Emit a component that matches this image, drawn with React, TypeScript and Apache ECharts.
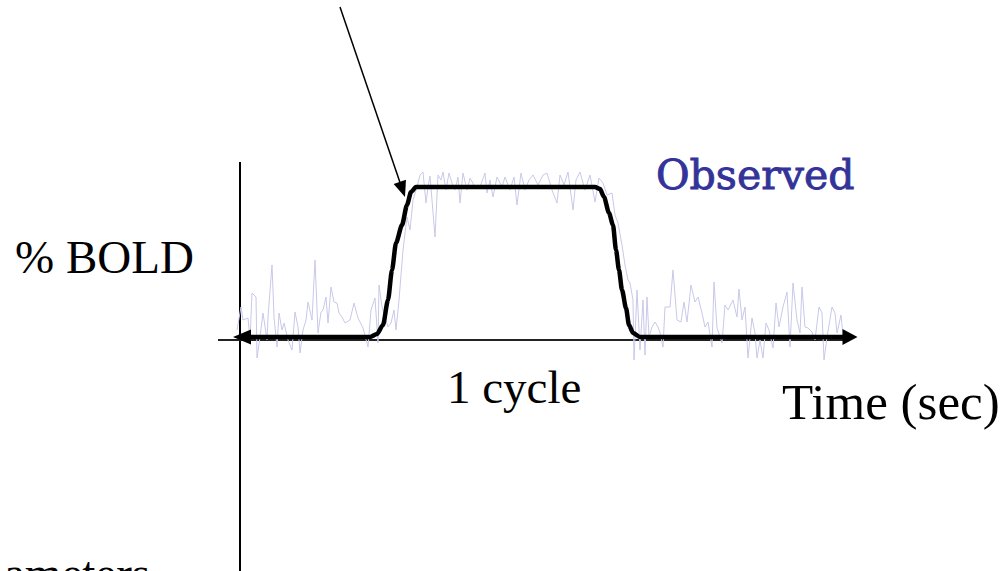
import React, { useEffect, useRef } from "react";
import * as echarts from "echarts";

// Time axis (arbitrary units) and % BOLD axis (arbitrary units)
const xRange = [0, 625];
const yRange = [-75, 330];

// Observed noisy BOLD trace: [time, signal]
const observed: [number, number][] = [
  [4, 7], [8, 30], [10, 17], [15, 19], [17, -3], [19, 44], [23, 40], [24, -21], [27, 0], [30, 24],
  [34, -3], [35, 20], [39, 72], [41, 20], [44, -10], [46, 24], [49, 7], [51, 14], [55, -3], [59, -13],
  [62, 25], [65, 10], [67, -16], [70, 7], [73, 17], [75, 35], [79, 17], [82, 77], [85, 4], [88, 25],
  [90, 27], [93, 40], [95, 14], [98, 50], [101, 35], [104, 34], [106, 24], [109, 20], [112, 14], [117, 17],
  [121, 34], [125, 19], [130, 9], [135, -10], [138, 27], [142, 39], [145, -6], [146, 52], [149, 30], [152, 20],
  [155, 10], [158, 14], [161, 27], [163, 7], [166, 37], [170, 87], [174, 120], [177, 107], [180, 137], [184, 150],
  [187, 162], [190, 165], [193, 134], [195, 150], [197, 161], [199, 137], [202, 100], [205, 162], [208, 157], [210, 165],
  [213, 147], [216, 164], [219, 154], [222, 147], [225, 160], [227, 134], [230, 164], [234, 147], [237, 159], [242, 150],
  [247, 150], [252, 164], [254, 144], [257, 157], [260, 140], [264, 160], [269, 150], [272, 160], [277, 147], [281, 160],
  [284, 132], [288, 164], [292, 147], [296, 157], [300, 162], [305, 152], [310, 162], [314, 164], [319, 147], [324, 134],
  [327, 162], [331, 152], [335, 165], [340, 127], [343, 157], [347, 165], [352, 147], [357, 162], [362, 135], [366, 159],
  [370, 154], [374, 142], [379, 144], [382, 122], [385, 114], [389, 92], [392, 72], [395, 57], [397, 54], [400, 37],
  [401, -23], [404, 47], [407, -13], [410, 37], [412, -18], [414, 40], [416, 0], [419, 10], [422, 15], [425, 10],
  [427, 4], [430, -10], [432, 30], [437, 30], [440, 67], [444, 17], [448, 15], [451, 35], [454, 15], [458, 52],
  [462, 35], [465, 40], [469, 24], [472, 10], [475, 15], [479, -10], [481, 55], [484, 9], [489, -6], [492, 32],
  [495, 27], [500, 37], [504, 20], [506, 48], [509, 17], [512, 30], [515, -21], [519, 19], [522, 4], [524, -21],
  [527, -3], [530, -21], [533, 14], [536, 7], [540, -11], [543, 34], [546, 10], [550, 30], [554, 45], [557, -10],
  [560, 54], [564, 17], [567, 4], [569, 50], [572, 10], [575, 9], [579, 5], [582, -3], [586, 30], [589, 24],
  [591, -23], [594, 0], [599, 30], [602, 24], [604, 4], [608, 22], [610, 2],
];

// Model (predicted) response: [time, signal]
const model: [number, number][] = [
  [9, 0], [137, 0], [144, 3], [150, 12], [155, 37], [159, 67], [163, 94], [169, 112], [174, 132], [178, 145],
  [183, 150], [362, 150], [367, 148], [371, 140], [376, 124], [380, 112], [383, 87], [386, 67], [389, 47], [393, 29],
  [396, 12], [400, 4], [407, 0], [617, 0],
];

// Pointer arrow (start, tip) in data coordinates
const pointerFrom: [number, number] = [107, 330];
const pointerTo: [number, number] = [169.4, 147.6];

const labels = {
  yTitle: "% BOLD",
  xTitle: "Time (sec)",
  cycle: "1 cycle",
  observed: "Observed",
  params: "ameters",
};

export default function App() {
  const ref = useRef<HTMLDivElement>(null);
  useEffect(() => {
    if (!ref.current) return;
    const chart = echarts.init(ref.current, undefined, { renderer: "svg" });
    const serif = "'Liberation Serif', 'Times New Roman', serif";
    const modelData = model.map((p, i) => {
      if (i === 0)
        return { value: p, symbol: "triangle", symbolSize: [15, 18], symbolRotate: 90 };
      if (i === model.length - 1)
        return { value: p, symbol: "triangle", symbolSize: [16, 15], symbolRotate: -90 };
      return { value: p, symbol: "none" };
    });
    chart.setOption({
      animation: false,
      backgroundColor: "#ffffff",
      grid: { left: 233, right: 149, top: 7, bottom: 159 },
      xAxis: { type: "value", min: xRange[0], max: xRange[1], show: false },
      yAxis: { type: "value", min: yRange[0], max: yRange[1], show: false },
      graphic: [
        { type: "line", shape: { x1: 240, y1: 162, x2: 240, y2: 571 }, style: { stroke: "#000", lineWidth: 2 }, silent: true },
        { type: "line", shape: { x1: 218, y1: 340, x2: 850, y2: 340 }, style: { stroke: "#222", lineWidth: 2 }, silent: true },
        { type: "text", x: 15, y: 233, style: { text: labels.yTitle, font: `47px ${serif}`, fill: "#000", textVerticalAlign: "top" } },
        { type: "text", x: 447, y: 363, style: { text: labels.cycle, font: `47px ${serif}`, fill: "#000", textVerticalAlign: "top" } },
        { type: "text", x: 782, y: 376, style: { text: labels.xTitle, font: `51px ${serif}`, fill: "#000", textVerticalAlign: "top" } },
        { type: "text", x: 656, y: 154, style: { text: labels.observed, font: `41px 'DejaVu Serif', serif`, fill: "#333399", stroke: "#333399", lineWidth: 0.9, textVerticalAlign: "top" } },
        { type: "text", x: 4, y: 549, style: { text: labels.params, font: `47px ${serif}`, fill: "#000", textVerticalAlign: "top" } },
      ],
      series: [
        {
          type: "line",
          data: observed,
          showSymbol: false,
          symbol: "none",
          silent: true,
          lineStyle: { color: "#c8c8ea", width: 1 },
          z: 1,
        },
        {
          type: "line",
          data: modelData,
          showSymbol: true,
          silent: true,
          smooth: 0.25,
          smoothMonotone: "x",
          itemStyle: { color: "#000" },
          lineStyle: { color: "#000", width: 4.5 },
          z: 3,
          markLine: {
            silent: true,
            symbol: ["none", "triangle"],
            symbolSize: [13, 16],
            label: { show: false },
            lineStyle: { color: "#000", width: 1.5, type: "solid" },
            data: [[{ coord: pointerFrom }, { coord: pointerTo }]],
          },
        },
      ],
    });
    return () => chart.dispose();
  }, []);
  return <div ref={ref} style={{ position: "fixed", left: 0, top: 0, width: 1007, height: 571 }} />;
}
